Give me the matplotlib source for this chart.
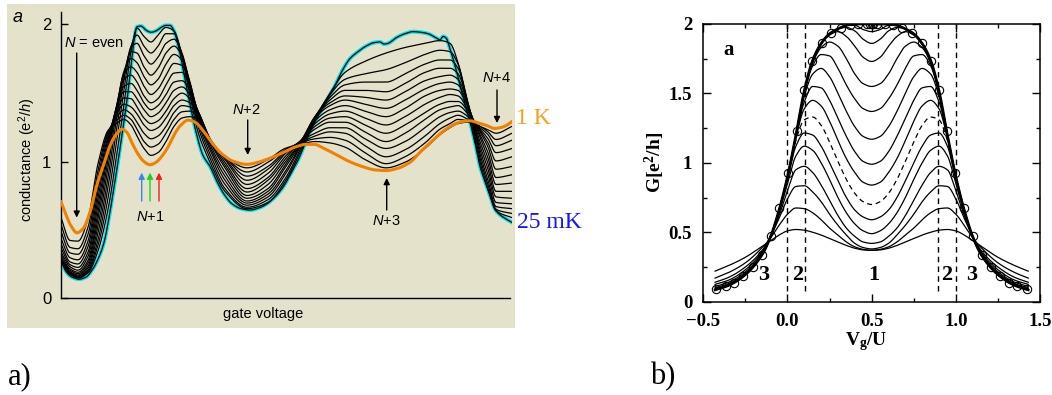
import numpy as np
import matplotlib.pyplot as plt
from matplotlib.patches import Rectangle
from matplotlib.ticker import MultipleLocator

plt.rcParams['mathtext.fontset'] = 'custom'
plt.rcParams['mathtext.rm'] = 'Liberation Sans'
plt.rcParams['mathtext.it'] = 'Liberation Sans:italic'
plt.rcParams['mathtext.bf'] = 'Liberation Serif:bold'

# ---------------- panel a: measured conductance vs gate voltage ----------------
# gate voltage in arbitrary units, conductance in e^2/h
cold_gv = [0, 5, 11, 18, 25, 31, 37, 43, 48, 53, 58, 62, 66, 70, 73, 76, 80, 85, 90, 95,
           100, 105, 109, 113, 118, 123, 129, 135, 142, 149, 156, 163, 171, 180, 189, 198,
           206, 214, 222, 230, 238, 246, 253, 259, 266, 273, 281, 289, 297, 305, 313, 319,
           323, 327, 335, 344, 352, 360, 367, 375, 379, 382, 385, 389, 394, 399, 404, 409,
           414, 419, 424, 429, 434, 439, 444, 451]
cold_g = [0.29, 0.21, 0.17, 0.155, 0.17, 0.22, 0.30, 0.42, 0.60, 0.82, 1.05, 1.25, 1.45, 1.70,
          1.88, 1.98, 1.985, 1.955, 1.94, 1.95, 1.975, 1.99, 1.99, 1.95, 1.82, 1.64, 1.42, 1.22,
          1.05, 0.97, 0.86, 0.77, 0.70, 0.665, 0.655, 0.67, 0.70, 0.75, 0.82, 0.92, 1.03, 1.17,
          1.28, 1.36, 1.45, 1.54, 1.66, 1.75, 1.80, 1.84, 1.865, 1.87, 1.855, 1.86, 1.90, 1.93,
          1.945, 1.94, 1.93, 1.90, 1.885, 1.91, 1.90, 1.82, 1.70, 1.56, 1.42, 1.29, 1.14, 0.97,
          0.86, 0.76, 0.66, 0.62, 0.595, 0.565]

hot_gv = [0, 5, 10, 16, 22, 29, 36, 43, 49, 55, 61, 66, 71, 77, 83, 89, 95, 101, 107, 114,
          120, 127, 134, 142, 151, 161, 173, 186, 197, 209, 222, 234, 245, 253, 263, 274, 287,
          301, 314, 325, 336, 349, 360, 372, 383, 392, 401, 409, 417, 426, 433, 439, 445, 451]
hot_g = [0.715, 0.62, 0.54, 0.49, 0.52, 0.64, 0.84, 0.99, 1.12, 1.20, 1.24, 1.215, 1.14, 1.06,
         1.005, 0.982, 1.00, 1.045, 1.11, 1.21, 1.27, 1.305, 1.29, 1.23, 1.14, 1.06, 1.005,
         0.985, 1.00, 1.03, 1.07, 1.11, 1.13, 1.13, 1.10, 1.06, 1.01, 0.97, 0.945, 0.94, 0.955,
         1.00, 1.08, 1.16, 1.23, 1.27, 1.295, 1.30, 1.285, 1.265, 1.245, 1.25, 1.265, 1.295]

# intermediate temperatures: one row per gate voltage, values from colder to hotter
mid_gv = [0, 9, 17, 27, 37, 47, 55, 63, 70, 76, 83, 90, 97, 105, 113, 121, 129, 137, 149, 164,
          186, 207, 224, 239, 254, 269, 284, 304, 325, 344, 364, 379, 389, 397, 407, 419, 427,
          435, 451]
mid_g = [
    [0.28, 0.285, 0.29, 0.295, 0.30, 0.31, 0.33, 0.35, 0.38, 0.41, 0.45, 0.50, 0.55, 0.60],
    [0.19, 0.195, 0.20, 0.205, 0.21, 0.22, 0.23, 0.245, 0.26, 0.28, 0.31, 0.345, 0.385, 0.435],
    [0.163, 0.167, 0.172, 0.178, 0.185, 0.195, 0.205, 0.22, 0.24, 0.265, 0.295, 0.335, 0.375, 0.43],
    [0.20, 0.21, 0.22, 0.235, 0.25, 0.27, 0.29, 0.32, 0.35, 0.39, 0.43, 0.48, 0.53, 0.59],
    [0.36, 0.40, 0.44, 0.49, 0.54, 0.59, 0.64, 0.69, 0.74, 0.79, 0.84, 0.89, 0.94, 0.99],
    [0.66, 0.74, 0.82, 0.89, 0.96, 1.02, 1.07, 1.11, 1.14, 1.17, 1.19, 1.21, 1.22, 1.23],
    [1.02, 1.12, 1.21, 1.29, 1.35, 1.38, 1.39, 1.39, 1.38, 1.36, 1.34, 1.32, 1.30, 1.28],
    [1.42, 1.52, 1.60, 1.64, 1.66, 1.64, 1.60, 1.55, 1.51, 1.465, 1.42, 1.38, 1.34, 1.31],
    [1.80, 1.84, 1.83, 1.80, 1.75, 1.69, 1.63, 1.57, 1.51, 1.46, 1.40, 1.35, 1.31, 1.27],
    [1.97, 1.92, 1.86, 1.79, 1.72, 1.65, 1.58, 1.52, 1.46, 1.40, 1.35, 1.29, 1.24, 1.19],
    [1.91, 1.84, 1.77, 1.69, 1.62, 1.55, 1.48, 1.43, 1.38, 1.32, 1.27, 1.21, 1.15, 1.10],
    [1.87, 1.79, 1.71, 1.63, 1.56, 1.49, 1.43, 1.38, 1.33, 1.28, 1.23, 1.17, 1.11, 1.05],
    [1.92, 1.84, 1.76, 1.68, 1.60, 1.53, 1.46, 1.41, 1.355, 1.30, 1.25, 1.19, 1.13, 1.07],
    [1.975, 1.93, 1.86, 1.79, 1.71, 1.63, 1.56, 1.49, 1.43, 1.37, 1.32, 1.26, 1.21, 1.15],
    [1.95, 1.93, 1.89, 1.84, 1.78, 1.715, 1.645, 1.58, 1.52, 1.46, 1.41, 1.36, 1.31, 1.26],
    [1.76, 1.78, 1.79, 1.77, 1.74, 1.70, 1.65, 1.59, 1.545, 1.50, 1.45, 1.41, 1.365, 1.32],
    [1.48, 1.52, 1.55, 1.57, 1.58, 1.57, 1.55, 1.52, 1.49, 1.46, 1.43, 1.40, 1.37, 1.33],
    [1.22, 1.26, 1.29, 1.31, 1.33, 1.35, 1.36, 1.37, 1.37, 1.37, 1.36, 1.35, 1.33, 1.31],
    [1.00, 1.03, 1.06, 1.09, 1.11, 1.13, 1.15, 1.16, 1.17, 1.17, 1.17, 1.16, 1.15, 1.14],
    [0.79, 0.81, 0.84, 0.87, 0.90, 0.93, 0.96, 0.98, 1.00, 1.02, 1.03, 1.04, 1.04, 1.04],
    [0.665, 0.675, 0.69, 0.705, 0.72, 0.74, 0.76, 0.785, 0.81, 0.84, 0.87, 0.90, 0.93, 0.96],
    [0.71, 0.73, 0.75, 0.77, 0.79, 0.81, 0.84, 0.87, 0.89, 0.92, 0.95, 0.97, 1.00, 1.02],
    [0.86, 0.88, 0.91, 0.93, 0.96, 0.98, 1.00, 1.02, 1.04, 1.06, 1.07, 1.08, 1.09, 1.10],
    [1.07, 1.09, 1.11, 1.12, 1.13, 1.14, 1.14, 1.15, 1.15, 1.15, 1.15, 1.14, 1.14, 1.13],
    [1.31, 1.32, 1.33, 1.33, 1.33, 1.32, 1.30, 1.28, 1.26, 1.24, 1.21, 1.19, 1.17, 1.15],
    [1.50, 1.49, 1.47, 1.45, 1.43, 1.41, 1.38, 1.35, 1.32, 1.29, 1.25, 1.22, 1.18, 1.14],
    [1.65, 1.60, 1.56, 1.52, 1.48, 1.45, 1.41, 1.37, 1.33, 1.29, 1.25, 1.21, 1.16, 1.11],
    [1.73, 1.64, 1.58, 1.52, 1.47, 1.42, 1.37, 1.32, 1.27, 1.22, 1.17, 1.12, 1.07, 1.02],
    [1.79, 1.67, 1.58, 1.51, 1.45, 1.39, 1.33, 1.27, 1.21, 1.15, 1.10, 1.04, 0.99, 0.96],
    [1.83, 1.72, 1.64, 1.57, 1.51, 1.45, 1.39, 1.33, 1.27, 1.21, 1.15, 1.09, 1.04, 1.00],
    [1.86, 1.78, 1.71, 1.65, 1.59, 1.53, 1.48, 1.42, 1.36, 1.31, 1.25, 1.19, 1.14, 1.10],
    [1.88, 1.81, 1.74, 1.68, 1.62, 1.57, 1.52, 1.47, 1.42, 1.38, 1.33, 1.28, 1.24, 1.20],
    [1.86, 1.80, 1.74, 1.68, 1.63, 1.58, 1.53, 1.49, 1.44, 1.40, 1.36, 1.32, 1.28, 1.25],
    [1.72, 1.71, 1.68, 1.64, 1.60, 1.56, 1.52, 1.48, 1.44, 1.41, 1.37, 1.34, 1.31, 1.28],
    [1.40, 1.42, 1.43, 1.43, 1.42, 1.41, 1.40, 1.38, 1.37, 1.35, 1.33, 1.31, 1.30, 1.29],
    [1.00, 1.03, 1.06, 1.09, 1.12, 1.15, 1.18, 1.20, 1.22, 1.23, 1.24, 1.25, 1.26, 1.26],
    [0.81, 0.84, 0.87, 0.91, 0.95, 0.99, 1.03, 1.07, 1.11, 1.14, 1.17, 1.20, 1.22, 1.235],
    [0.65, 0.66, 0.68, 0.71, 0.75, 0.79, 0.84, 0.89, 0.95, 1.01, 1.07, 1.12, 1.165, 1.21],
    [0.60, 0.63, 0.665, 0.70, 0.74, 0.79, 0.85, 0.91, 0.97, 1.04, 1.10, 1.16, 1.21, 1.26],
]

# ---------------- panel b: calculated G(Vg/U) for several temperatures ----------------
# left half of each symmetric curve (mirrored about Vg/U = 0.5)
b_x = [-0.43, -0.35, -0.25, -0.15, -0.1, -0.05, 0.0, 0.05, 0.1, 0.15, 0.2, 0.25, 0.3, 0.35,
       0.4, 0.45, 0.5]
b_t0 = [0.085, 0.117, 0.195, 0.34, 0.47, 0.66, 0.90, 1.20, 1.52, 1.74, 1.86, 1.93, 1.965,
        1.99, 2.0, 2.0, 2.0]
b_curves = [
    [0.22, 0.26, 0.32, 0.40, 0.44, 0.48, 0.51, 0.52, 0.515, 0.50, 0.48, 0.455, 0.43, 0.405, 0.385, 0.373, 0.37],
    [0.17, 0.21, 0.28, 0.39, 0.46, 0.55, 0.63, 0.675, 0.67, 0.64, 0.59, 0.53, 0.48, 0.43, 0.395, 0.377, 0.37],
    [0.14, 0.175, 0.25, 0.37, 0.47, 0.60, 0.74, 0.83, 0.835, 0.79, 0.72, 0.63, 0.55, 0.48, 0.42, 0.39, 0.38],
    [0.125, 0.155, 0.23, 0.36, 0.47, 0.62, 0.80, 0.95, 0.975, 0.93, 0.84, 0.73, 0.62, 0.53, 0.47, 0.43, 0.42],
    [0.11, 0.14, 0.215, 0.35, 0.47, 0.64, 0.85, 1.05, 1.12, 1.09, 1.00, 0.88, 0.75, 0.64, 0.56, 0.51, 0.49],
    [0.10, 0.13, 0.205, 0.345, 0.47, 0.65, 0.88, 1.12, 1.215, 1.20, 1.12, 1.00, 0.87, 0.75, 0.66, 0.61, 0.59],
    [0.095, 0.125, 0.20, 0.34, 0.47, 0.66, 0.89, 1.16, 1.31, 1.33, 1.27, 1.15, 1.01, 0.88, 0.78, 0.72, 0.70],
    [0.09, 0.12, 0.198, 0.34, 0.47, 0.66, 0.90, 1.18, 1.39, 1.45, 1.41, 1.30, 1.16, 1.03, 0.93, 0.86, 0.84],
    [0.09, 0.12, 0.196, 0.34, 0.47, 0.66, 0.90, 1.19, 1.44, 1.55, 1.54, 1.45, 1.32, 1.19, 1.08, 1.01, 0.99],
    [0.088, 0.119, 0.195, 0.34, 0.47, 0.66, 0.90, 1.20, 1.48, 1.64, 1.68, 1.62, 1.50, 1.37, 1.26, 1.19, 1.17],
    [0.087, 0.118, 0.195, 0.34, 0.47, 0.66, 0.90, 1.20, 1.50, 1.70, 1.78, 1.77, 1.68, 1.56, 1.46, 1.39, 1.37],
    [0.086, 0.117, 0.195, 0.34, 0.47, 0.66, 0.90, 1.20, 1.51, 1.72, 1.83, 1.87, 1.84, 1.75, 1.64, 1.57, 1.55],
    [0.086, 0.117, 0.195, 0.34, 0.47, 0.66, 0.90, 1.20, 1.52, 1.73, 1.85, 1.92, 1.945, 1.91, 1.84, 1.76, 1.73],
    [0.085, 0.117, 0.195, 0.34, 0.47, 0.66, 0.90, 1.20, 1.52, 1.74, 1.86, 1.93, 1.965, 1.975, 1.95, 1.89, 1.86],
    [0.085, 0.117, 0.195, 0.34, 0.47, 0.66, 0.90, 1.20, 1.52, 1.74, 1.86, 1.93, 1.965, 1.99, 1.99, 1.96, 1.945],
]
b_dashed = 6
circ_x = [-0.424, -0.365, -0.316, -0.262, -0.206, -0.153, -0.10, -0.048, 0.005, 0.055, 0.098,
          0.148, 0.203, 0.259, 0.318, 0.372, 0.421, 0.471, 0.49, 0.5]
circ_g = [0.089, 0.113, 0.137, 0.185, 0.252, 0.336, 0.473, 0.673, 0.93, 1.232, 1.525, 1.734,
          1.866, 1.938, 1.972, 1.996, 2.0, 2.0, 2.0, 2.0]
regions_x = [0.0, 0.105, 0.895, 1.0]
region_labels = [(-0.14, '3'), (0.061, '2'), (0.51, '1'), (0.946, '2'), (1.094, '3')]


def pchip(x, y, xs):
    x = np.asarray(x, float)
    y = np.asarray(y, float)
    h = np.diff(x)
    d = np.diff(y) / h
    m = np.zeros_like(y)
    for k in range(1, len(y) - 1):
        if d[k - 1] * d[k] > 0:
            w1 = 2 * h[k] + h[k - 1]
            w2 = h[k] + 2 * h[k - 1]
            m[k] = (w1 + w2) / (w1 / d[k - 1] + w2 / d[k])
    m[0], m[-1] = d[0], d[-1]
    i = np.clip(np.searchsorted(x, xs) - 1, 0, len(h) - 1)
    t = (xs - x[i]) / h[i]
    return ((2 * t**3 - 3 * t**2 + 1) * y[i] + (t**3 - 2 * t**2 + t) * h[i] * m[i]
            + (-2 * t**3 + 3 * t**2) * y[i + 1] + (t**3 - t**2) * h[i] * m[i + 1])


def mirror(xh, yh):
    xh = np.asarray(xh)
    yh = np.asarray(yh)
    return (np.concatenate([xh, 1 - xh[::-1][1:]]),
            np.concatenate([yh, yh[::-1][1:]]))


W, H = 1052, 395
fig = plt.figure(figsize=(W / 100, H / 100), dpi=100)
fig.patches.append(Rectangle((6.7 / W, 1 - 328 / H), 508 / W, 324 / H,
                             transform=fig.transFigure, facecolor='#e4e2cb',
                             edgecolor='none', zorder=-10))

sans = 'Liberation Sans'
serif = 'Liberation Serif'

# ---- panel a
axa = fig.add_axes([61 / W, 1 - 300.6 / H, 451 / W, 2.09 * 138.3 / H])
axa.set_zorder(2)
axa.patch.set_visible(False)
axa.set_xlim(0, 451)
axa.set_ylim(0, 2.09)
for s in ('top', 'right'):
    axa.spines[s].set_visible(False)
axa.spines['bottom'].set_position(('data', 0.02))
axa.spines['bottom'].set_bounds(0, 449)
axa.spines['left'].set_bounds(0.02, 2.09)
for s in ('left', 'bottom'):
    axa.spines[s].set_linewidth(1.0)
axa.set_xticks([])
axa.set_yticks([0.02, 1, 2])
axa.set_yticklabels(['0', '1', '2'], fontfamily=sans, fontsize=12)
axa.tick_params(axis='y', direction='in', length=5, width=1, pad=7)

xs = np.linspace(0, 451, 1500)
axa.plot(xs, pchip(cold_gv, cold_g, xs), color='#00e6f0', lw=2.8, zorder=2)
axa.plot(xs, pchip(cold_gv, cold_g, xs), color='black', lw=0.9, zorder=3)
table = np.array(mid_g).T
for row in table:
    axa.plot(xs, pchip(mid_gv, row, xs), color='black', lw=0.9, zorder=3)
axa.plot(xs, pchip(hot_gv, hot_g, xs), color='#f08200', lw=2.2, zorder=4)

arrow_kw = dict(arrowstyle='-|>', lw=1.0, mutation_scale=9, shrinkA=0, shrinkB=0)
axa.annotate('', xy=(15.7, 0.60), xytext=(15.7, 1.79),
             arrowprops=dict(color='black', **arrow_kw), zorder=5)
axa.text(3, 1.86, r'$\it{N}$ = even', fontfamily=sans, fontsize=10.5, va='center')
for gx, c in zip([80.7, 89, 98], ['#3a86e8', '#1fd11f', '#f02020']):
    axa.annotate('', xy=(gx, 0.925), xytext=(gx, 0.72),
                 arrowprops=dict(color=c, **arrow_kw), zorder=5)
axa.text(89, 0.605, r'$\it{N}$+1', fontfamily=sans, fontsize=10.5, ha='center', va='center')
axa.annotate('', xy=(186.7, 1.053), xytext=(186.7, 1.306),
             arrowprops=dict(color='black', **arrow_kw), zorder=5)
axa.text(185.7, 1.378, r'$\it{N}$+2', fontfamily=sans, fontsize=10.5, ha='center', va='center')
axa.annotate('', xy=(325.7, 0.886), xytext=(325.7, 0.655),
             arrowprops=dict(color='black', **arrow_kw), zorder=5)
axa.text(325, 0.578, r'$\it{N}$+3', fontfamily=sans, fontsize=10.5, ha='center', va='center')
axa.annotate('', xy=(436, 1.284), xytext=(436, 1.523),
             arrowprops=dict(color='black', **arrow_kw), zorder=5)
axa.text(435.7, 1.61, r'$\it{N}$+4', fontfamily=sans, fontsize=10.5, ha='center', va='center')

fig.text(18 / W, 1 - 17 / H, 'a', fontfamily=sans, fontstyle='italic', fontsize=13,
         ha='center', va='center')
fig.text(27 / W, 1 - 160 / H, r'conductance (e$^2$/$\it{h}$)', fontfamily=sans,
         fontsize=10.5, rotation=90, ha='center', va='center')
fig.text(263 / W, 1 - 314 / H, 'gate voltage', fontfamily=sans, fontsize=10.5,
         ha='center', va='center')
fig.text(516 / W, 1 - 119 / H, '1 K', fontfamily=serif, fontsize=17, color='#f5a01a',
         ha='left', va='center')
fig.text(517 / W, 1 - 223 / H, '25 mK', fontfamily=serif, fontsize=17, color='#1414ff',
         ha='left', va='center')

# ---- panel b
axb = fig.add_axes([703.3 / W, 1 - 301.7 / H, 336.7 / W, 277.7 / H])
axb.set_xlim(-0.5, 1.5)
axb.set_ylim(0, 2)
for s in axb.spines.values():
    s.set_linewidth(1.1)
axb.set_xticks([-0.5, 0, 0.5, 1, 1.5])
axb.set_xticklabels(['\u22120.5', '0.0', '0.5', '1.0', '1.5'])
axb.set_yticks([0, 0.5, 1, 1.5, 2])
axb.set_yticklabels(['0', '0.5', '1', '1.5', '2'])
axb.xaxis.set_minor_locator(MultipleLocator(0.25))
axb.yaxis.set_minor_locator(MultipleLocator(0.25))
axb.tick_params(which='both', direction='in', top=True, right=True, width=1)
axb.tick_params(which='major', length=6)
axb.tick_params(which='minor', length=3)
axb.tick_params(axis='y', pad=8)
axb.tick_params(axis='x', pad=8)
for lab in axb.get_xticklabels() + axb.get_yticklabels():
    lab.set_fontfamily(serif)
    lab.set_fontweight('bold')
    lab.set_fontsize(13.5)

bs = np.linspace(-0.43, 1.43, 800)
for k, half in enumerate(b_curves):
    fx, fyv = mirror(b_x, half)
    axb.plot(bs, pchip(fx, fyv, bs), color='black', lw=0.9,
             ls=(0, (4, 3)) if k == b_dashed else '-')
fx, fyv = mirror(b_x, b_t0)
axb.plot(bs, pchip(fx, fyv, bs), color='black', lw=1.9)
cx, cg = mirror(circ_x, circ_g)
axb.plot(cx, cg, 'o', ms=6, mfc='none', mec='black', mew=0.8)
for vx in regions_x:
    axb.plot([vx, vx], [0.08, 2.0], color='black', lw=1.0, ls=(0, (4, 3)))
for rx, t in region_labels:
    axb.text(rx, 0.192, t, fontfamily=serif, fontweight='bold', fontsize=16,
             ha='center', va='center')
axb.text(-0.351, 1.813, 'a', fontfamily=serif, fontweight='bold', fontsize=15,
         ha='center', va='center')

fig.text(655 / W, 1 - 162 / H, r'$\mathbf{G[e^2/h]}$', fontsize=14, rotation=90,
         ha='center', va='center')
fig.text(866 / W, 1 - 342 / H, r'$\mathbf{V_g/U}$', fontsize=14, ha='center', va='center')

fig.text(8 / W, 1 - 377 / H, 'a)', fontfamily=serif, fontsize=22, ha='left', va='center')
fig.text(650 / W, 1 - 377 / H, 'b)', fontfamily=serif, fontsize=22, ha='left', va='center')

fig.savefig('out.png', dpi=100)
